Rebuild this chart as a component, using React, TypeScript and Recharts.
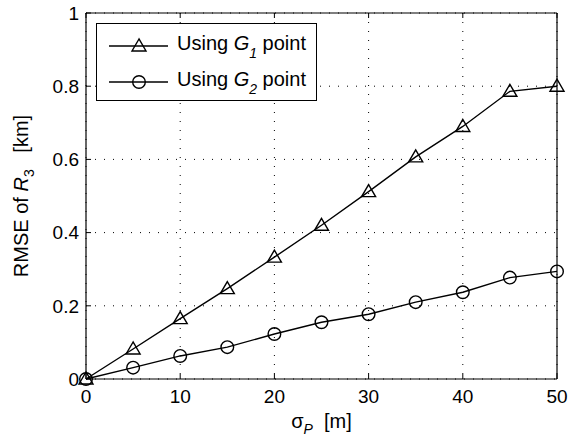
import React from 'react';
import { LineChart, Line, XAxis, YAxis, CartesianGrid } from 'recharts';

const sigmaP = [0, 5, 10, 15, 20, 25, 30, 35, 40, 45, 50];
const rmseG1 = [0, 0.082, 0.165, 0.247, 0.333, 0.42, 0.512, 0.607, 0.69, 0.786, 0.8];
const rmseG2 = [0, 0.031, 0.063, 0.087, 0.123, 0.155, 0.177, 0.21, 0.237, 0.277, 0.294];
const xTicks = [0, 10, 20, 30, 40, 50];
const yTicks = [0, 0.2, 0.4, 0.6, 0.8, 1];

const data = sigmaP.map((s, i) => ({ s, g1: rmseG1[i], g2: rmseG2[i] }));

const FONT = '"Liberation Sans", Arial, Helvetica, sans-serif';

const Triangle = ({ cx, cy }: { cx: number; cy: number }) => (
  <polygon
    points={`${cx},${cy - 7} ${cx - 7},${cy + 5} ${cx + 7},${cy + 5}`}
    fill="none"
    stroke="#000"
    strokeWidth={1.4}
  />
);

const Ring = ({ cx, cy }: { cx: number; cy: number }) => (
  <circle cx={cx} cy={cy} r={6.3} fill="none" stroke="#000" strokeWidth={1.4} />
);

const YTitle = (props: any) => {
  const vb = props.viewBox || { x: 0, y: 13, width: 86, height: 366 };
  const x = vb.x + 28;
  const y = vb.y + vb.height / 2;
  return (
    <text x={x} y={y} transform={`rotate(-90, ${x}, ${y})`} textAnchor="middle" fontSize={20} fontFamily={FONT} fill="#000">
      RMSE of <tspan fontStyle="italic">R</tspan>
      <tspan dy={6} fontSize={14}>3</tspan>
      <tspan dy={-6}>{'\u00a0\u00a0 [km]'}</tspan>
    </text>
  );
};

const XTitle = (props: any) => {
  const vb = props.viewBox || { x: 86, y: 379, width: 471, height: 60 };
  const x = vb.x + vb.width / 2;
  const y = vb.y + 49;
  return (
    <text x={x} y={y} textAnchor="middle" fontSize={20} fontFamily={FONT} fill="#000">
      σ<tspan dy={6} fontSize={14} fontStyle="italic">P</tspan>
      <tspan dy={-6}>{'\u00a0 [m]'}</tspan>
    </text>
  );
};

const LegendBox = () => {
  const rows = [
    { y: 22, sub: '1', marker: 'tri' },
    { y: 58, sub: '2', marker: 'ring' },
  ];
  return (
    <div
      style={{
        position: 'absolute',
        left: 96,
        top: 23,
        width: 221,
        height: 78,
        border: '1px solid #000',
        background: '#fff',
        boxSizing: 'border-box',
      }}
    >
      <svg width={219} height={76} style={{ display: 'block' }}>
        {rows.map((r) => (
          <g key={r.sub}>
            <line x1={12} x2={71} y1={r.y} y2={r.y} stroke="#000" strokeWidth={1.4} />
            {r.marker === 'tri' ? <Triangle cx={42} cy={r.y} /> : <Ring cx={42} cy={r.y} />}
            <text x={80} y={r.y + 4} fontSize={20} fontFamily={FONT} fill="#000">
              Using <tspan fontStyle="italic">G</tspan>
              <tspan dy={8} fontSize={14} fontStyle="italic">{r.sub}</tspan>
              <tspan dy={-8}>{'\u00a0point'}</tspan>
            </text>
          </g>
        ))}
      </svg>
    </div>
  );
};

const fmt = (v: number) => (v === 0 || v === 1 ? String(v) : v.toFixed(1));
const blank = () => '';

export default function App() {
  return (
    <div style={{ position: 'absolute', left: 0, top: 0, width: 583, height: 439, background: '#fff' }}>
      <LineChart
        width={583}
        height={439}
        data={data}
        margin={{ top: 12, right: 25, bottom: 0, left: 0 }}
        style={{ fontFamily: FONT }}
      >
        <CartesianGrid stroke="#000" strokeDasharray="1 8" strokeWidth={1} />
        <XAxis
          dataKey="s"
          type="number"
          domain={[0, 50]}
          ticks={xTicks}
          height={60}
          tickSize={-5}
          tickMargin={16}
          axisLine={{ stroke: '#000', strokeWidth: 1.2 }}
          tickLine={{ stroke: '#000' }}
          tick={{ fill: '#000', fontSize: 19 }}
          label={<XTitle />}
        />
        <XAxis
          xAxisId="top"
          orientation="top"
          dataKey="s"
          type="number"
          domain={[0, 50]}
          ticks={xTicks}
          height={1}
          tickSize={-5}
          tickFormatter={blank}
          axisLine={{ stroke: '#000', strokeWidth: 1.2 }}
          tickLine={{ stroke: '#000' }}
        />
        <YAxis
          type="number"
          domain={[0, 1]}
          ticks={yTicks}
          width={86}
          tickSize={-5}
          tickMargin={12}
          tickFormatter={fmt}
          axisLine={{ stroke: '#000', strokeWidth: 1.2 }}
          tickLine={{ stroke: '#000' }}
          tick={{ fill: '#000', fontSize: 19 }}
          label={<YTitle />}
        />
        <YAxis
          yAxisId="right"
          orientation="right"
          type="number"
          domain={[0, 1]}
          ticks={yTicks}
          width={1}
          tickSize={-5}
          tickFormatter={blank}
          axisLine={{ stroke: '#000', strokeWidth: 1.2 }}
          tickLine={{ stroke: '#000' }}
        />
        <Line
          dataKey="g1"
          stroke="#000"
          strokeWidth={1.4}
          isAnimationActive={false}
          dot={(p: any) => <Triangle key={`t${p.index}`} cx={p.cx} cy={p.cy} />}
        />
        <Line
          dataKey="g2"
          stroke="#000"
          strokeWidth={1.4}
          isAnimationActive={false}
          dot={(p: any) => <Ring key={`c${p.index}`} cx={p.cx} cy={p.cy} />}
        />
      </LineChart>
      <LegendBox />
    </div>
  );
}
